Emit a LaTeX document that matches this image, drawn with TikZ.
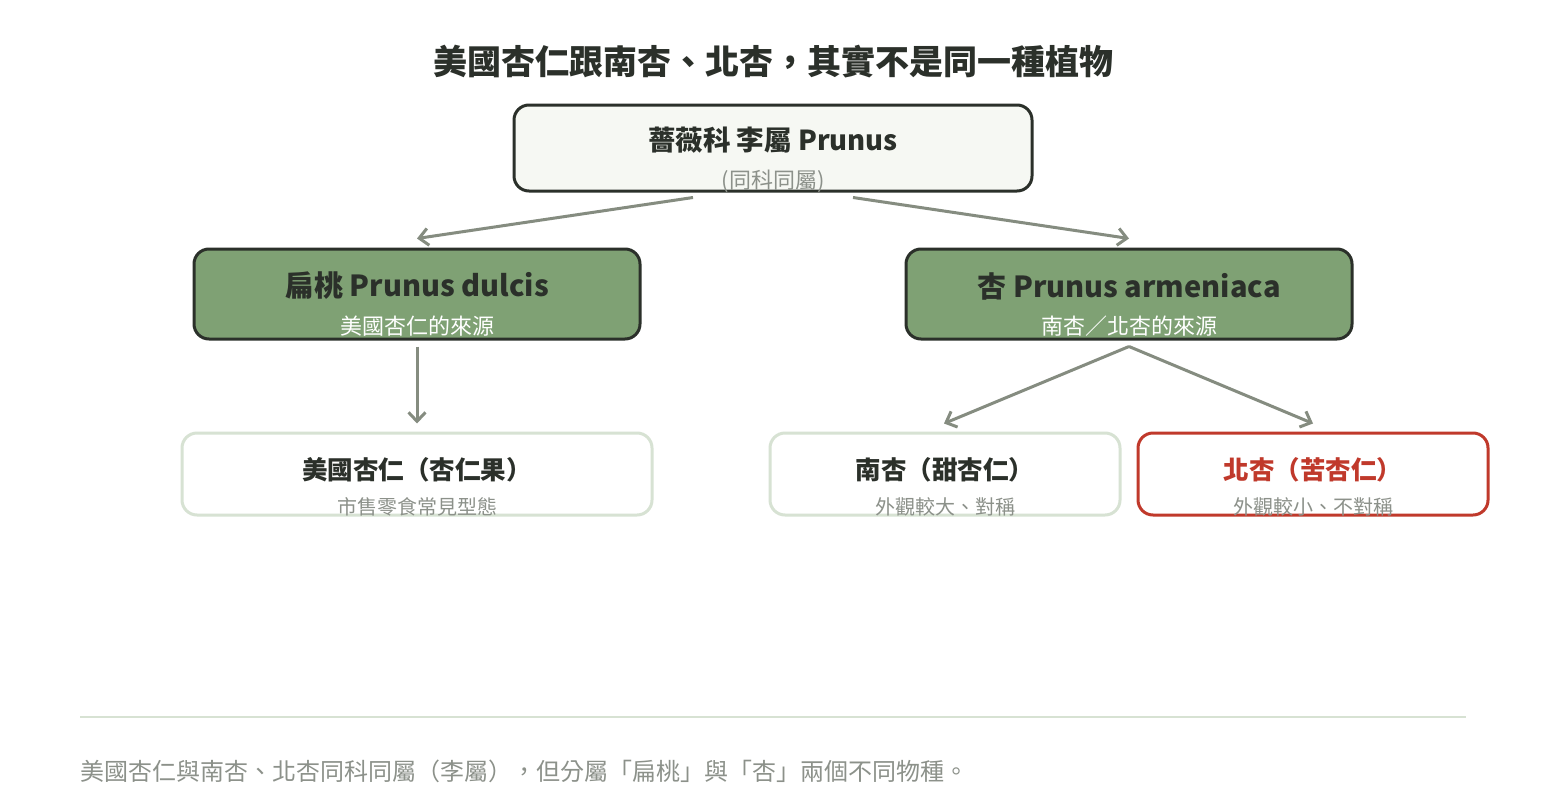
\documentclass[tikz,border=0pt]{standalone}
\usepackage{fontspec}
\setmainfont{Noto Sans CJK TC}
\usetikzlibrary{arrows.meta}
\definecolor{ink}{HTML}{2B302A}
\definecolor{muted}{HTML}{8C918A}
\definecolor{leafgreen}{HTML}{7FA174}
\definecolor{paleground}{HTML}{F6F8F3}
\definecolor{paleline}{HTML}{D7E2D3}
\definecolor{linkgray}{HTML}{858C80}
\definecolor{bitter}{HTML}{C0392B}
\tikzset{
	almond/.is family,
	almond/.cd,
	box/.style = {
		rounded corners = 15pt,
		line width = 3pt,
		inner sep = 0pt,
	},
	genus/.style = {
		almond/box,
		draw = ink,
		fill = paleground,
		minimum width = 518pt,
		minimum height = 86pt,
	},
	species/.style = {
		almond/box,
		draw = ink,
		fill = leafgreen,
		minimum width = 446pt,
		minimum height = 90pt,
	},
	leaf/.style = {
		almond/box,
		draw = paleline,
		fill = white,
		minimum height = 82pt,
	},
	heading/.style = {
		inner sep = 0pt,
		text = ink,
		font = \fontsize{27.5}{32}\selectfont\bfseries,
	},
	caption/.style = {
		inner sep = 0pt,
		text = muted,
		font = \fontsize{22}{26}\selectfont,
	},
	link/.style = {
		draw = linkgray,
		line width = 3pt,
		-{Straight Barb[length = 9pt, width = 17pt]},
	},
}

\begin{document}
\begin{tikzpicture}[
		x = 1pt, y = -1pt,
		leafhead/.style = {
			almond/heading,
			font = \fontsize{25.5}{30}\selectfont\bfseries
		}]
	\useasboundingbox[fill = white] (0, 0) rectangle (1546, 800);
	% title
	\node[almond/heading, font = \fontsize{34}{40}\selectfont\bfseries] (title) at (773, 62) {美國杏仁跟南杏、北杏，其實不是同一種植物};
	% genus
	\node[almond/genus] (root) at (773, 148) {};
	\node[almond/heading] (root-head) at (773, 140) {薔薇科 李屬 Prunus};
	\node[almond/caption] (root-sub) at (773, 181) {(同科同屬)};
	% species
	\node[almond/species] (dulcis) at (417, 294) {};
	\node[almond/heading, font = \fontsize{29}{34}\selectfont\bfseries] (dulcis-head) at (417, 286) {扁桃 Prunus dulcis};
	\node[almond/caption, text = white] (dulcis-sub) at (417, 326) {美國杏仁的來源};
	\node[almond/species] (armeniaca) at (1129, 294) {};
	\node[almond/heading, font = \fontsize{29}{34}\selectfont\bfseries] (armeniaca-head) at (1129, 286) {杏 Prunus armeniaca};
	\node[almond/caption, text = white] (armeniaca-sub) at (1129, 326) {南杏／北杏的來源};
	% kernels
	\foreach \name/\x/\w/\edge/\tint/\head/\sub in {
			american/417/470/paleline/ink/美國杏仁（杏仁果）/市售零食常見型態,
			sweet/945/350/paleline/ink/南杏（甜杏仁）/外觀較大、對稱,
			bitter/1313/350/bitter/bitter/北杏（苦杏仁）/外觀較小、不對稱}{
		\node[almond/leaf, draw = \edge, minimum width = \w pt] (\name) at (\x, 474) {};
		\node[leafhead, text = \tint] (\name-head) at (\x, 470) {\head};
		\node[almond/caption, font = \fontsize{20}{24}\selectfont] (\name-sub) at (\x, 507) {\sub};
	}
	% links
	\draw[almond/link] ([xshift = -80pt, yshift = -5pt]root.south) -- ([yshift = 9pt]dulcis.north);
	\draw[almond/link] ([xshift = 80pt, yshift = -5pt]root.south) -- ([yshift = 9pt]armeniaca.north);
	\draw[almond/link] ([yshift = -6pt]dulcis.south) -- ([yshift = 8pt]american.north);
	\draw[almond/link] ([yshift = -6pt]armeniaca.south) -- ([xshift = -1pt, yshift = 8pt]sweet.north);
	\draw[almond/link] ([yshift = -6pt]armeniaca.south) -- ([yshift = 8pt]bitter.north);
	% footer
	\coordinate (rule-l) at (80, 717);
	\coordinate (rule-r) at (1466, 717);
	\draw[paleline, line width = 2pt] (rule-l) -- (rule-r);
	\node[almond/caption, anchor = west, font = \fontsize{24}{28}\selectfont] (note) at (80, 771) {美國杏仁與南杏、北杏同科同屬（李屬），但分屬「扁桃」與「杏」兩個不同物種。};
\end{tikzpicture}
\end{document}
